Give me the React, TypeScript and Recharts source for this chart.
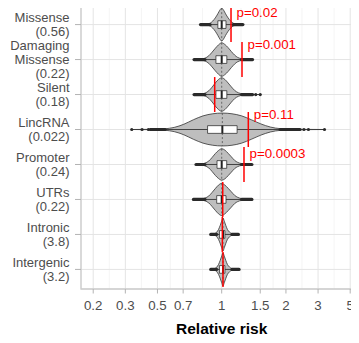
import {
  ComposedChart,
  Area,
  Line,
  Scatter,
  XAxis,
  YAxis,
  CartesianGrid,
  ReferenceLine,
  ReferenceArea,
  ReferenceDot,
  Label,
} from "recharts";

const FONT = '"Liberation Sans", Arial, Helvetica, sans-serif';

// categories, top to bottom, with the rate shown under each name
const categoryNames = [
  "Missense",
  "Damaging\nMissense",
  "Silent",
  "LincRNA",
  "Promoter",
  "UTRs",
  "Intronic",
  "Intergenic",
];
const categoryRates = ["0.56", "0.22", "0.18", "0.022", "0.24", "0.22", "3.8", "3.2"];

// x axis is in plot units; labels are the relative risk shown at each break
const xTickPos = [-2, -1.5, -1, -0.6, 0, 0.6, 1, 1.5, 2];
const xTickLabels = ["0.2", "0.3", "0.5", "0.7", "1", "1.5", "2", "3", "5"];
const xMinorPos = [-1.75, -1.25, -0.8, -0.3, 0.3, 0.8, 1.25, 1.75];
const xDomain: [number, number] = [-2.19, 2.19];
const yDomain: [number, number] = [0.44, 8.56];

// violin outlines: [offset from median, half width]
const missenseViolin = [
  [-0.33, 0], [-0.24, 0.012], [-0.18, 0.04], [-0.14, 0.1], [-0.1, 0.19], [-0.06, 0.31],
  [-0.03, 0.41], [0, 0.47], [0.03, 0.41], [0.06, 0.31], [0.1, 0.19], [0.14, 0.1],
  [0.18, 0.04], [0.24, 0.012], [0.33, 0],
];
const damagingViolin = [
  [-0.43, 0], [-0.34, 0.01], [-0.26, 0.04], [-0.2, 0.11], [-0.15, 0.21], [-0.1, 0.32],
  [-0.05, 0.42], [0, 0.48], [0.05, 0.43], [0.1, 0.34], [0.15, 0.23], [0.2, 0.13],
  [0.25, 0.06], [0.31, 0.025], [0.4, 0.008], [0.48, 0],
];
const silentViolin = [
  [-0.43, 0], [-0.34, 0.01], [-0.26, 0.04], [-0.2, 0.11], [-0.15, 0.21], [-0.1, 0.33],
  [-0.05, 0.43], [0, 0.48], [0.05, 0.43], [0.1, 0.33], [0.15, 0.22], [0.2, 0.12],
  [0.26, 0.05], [0.33, 0.02], [0.45, 0.005], [0.6, 0],
];
const lincViolin = [
  [-1.4, 0], [-1.1, 0.005], [-0.9, 0.02], [-0.75, 0.06], [-0.6, 0.15], [-0.45, 0.28],
  [-0.3, 0.39], [-0.15, 0.45], [0, 0.47], [0.15, 0.45], [0.3, 0.39], [0.45, 0.28],
  [0.6, 0.16], [0.75, 0.07], [0.9, 0.025], [1.2, 0.005], [1.6, 0],
];
const promoterViolin = [
  [-0.4, 0], [-0.33, 0.01], [-0.26, 0.04], [-0.2, 0.1], [-0.15, 0.2], [-0.1, 0.31],
  [-0.05, 0.4], [0, 0.45], [0.05, 0.41], [0.1, 0.32], [0.15, 0.22], [0.2, 0.12],
  [0.25, 0.06], [0.31, 0.025], [0.4, 0.008], [0.47, 0],
];
const utrViolin = [
  [-0.44, 0], [-0.34, 0.01], [-0.26, 0.04], [-0.2, 0.1], [-0.15, 0.2], [-0.1, 0.31],
  [-0.05, 0.41], [0, 0.46], [0.05, 0.41], [0.1, 0.32], [0.15, 0.22], [0.2, 0.12],
  [0.25, 0.06], [0.31, 0.025], [0.4, 0.008], [0.47, 0],
];
const intronicViolin = [
  [-0.19, 0], [-0.14, 0.015], [-0.1, 0.06], [-0.07, 0.14], [-0.045, 0.25], [-0.02, 0.38],
  [0, 0.47], [0.02, 0.38], [0.045, 0.25], [0.07, 0.14], [0.1, 0.07], [0.14, 0.025], [0.24, 0],
];
const intergenicViolin = [
  [-0.19, 0], [-0.14, 0.015], [-0.1, 0.06], [-0.07, 0.14], [-0.045, 0.25], [-0.02, 0.38],
  [0, 0.47], [0.02, 0.38], [0.045, 0.25], [0.07, 0.14], [0.1, 0.07], [0.14, 0.025], [0.25, 0],
];
const violins = [
  missenseViolin, damagingViolin, silentViolin, lincViolin,
  promoterViolin, utrViolin, intronicViolin, intergenicViolin,
];

// box plot summaries (plot units)
const medians = [0, 0, 0, 0.01, 0, 0, 0.02, 0.02];
const q1 = [-0.06, -0.09, -0.09, -0.22, -0.073, -0.078, -0.035, -0.035];
const q3 = [0.067, 0.08, 0.08, 0.24, 0.078, 0.067, 0.05, 0.05];
const whiskLo = [-0.18, -0.26, -0.26, -0.88, -0.26, -0.26, -0.08, -0.08];
const whiskHi = [0.18, 0.31, 0.31, 0.91, 0.31, 0.31, 0.16, 0.16];
const outLo = [-0.33, -0.43, -0.43, -1.11, -0.4, -0.44, -0.17, -0.17];
const outHi = [0.33, 0.48, 0.48, 1.22, 0.47, 0.47, 0.26, 0.27];
const sparseOutliers = [[], [], [0.53, 0.6], [-1.4, -1.24, -1.14, 1.28, 1.35, 1.6], [], [], [], []];

// observed relative risk (red) and p values
const observed = [0.145, 0.316, -0.109, 0.414, 0.347, 0.016, 0.01, 0.02];
const pLabels = ["p=0.02", "p=0.001", "", "p=0.11", "p=0.0003", "", "", ""];
const pLabelY = [-0.35, -0.43, 0, -0.44, -0.33, 0, 0, 0];

const violinData = violins.map((v, i) =>
  v.map(([d, w]) => ({ u: medians[i] + d, band: [i + 1 - w, i + 1 + w] }))
);

function YTick({ x, y, payload }: any) {
  const idx = Math.round(payload.value) - 1;
  const lines = [...categoryNames[idx].split("\n"), `(${categoryRates[idx]})`];
  const lh = 14;
  const first = 4.5 - ((lines.length - 1) * lh) / 2;
  return (
    <text x={x} y={y} textAnchor="end" fill="#4d4d4d" fontSize={13} fontFamily={FONT}>
      {lines.map((l, k) => (
        <tspan key={k} x={x} y={y + first + k * lh}>
          {l}
        </tspan>
      ))}
    </text>
  );
}

function AxisTitle({ viewBox }: any) {
  const { x, y, width, height } = viewBox;
  return (
    <text
      x={x + width / 2}
      y={y + height - 8.7}
      textAnchor="middle"
      fontSize={15.5}
      fontWeight="bold"
      fill="#000"
      fontFamily={FONT}
    >
      Relative risk
    </text>
  );
}

export default function App() {
  return (
    <div style={{ margin: -8, width: 359, height: 343, overflow: "hidden", background: "#fff" }}>
      <ComposedChart width={364} height={343} margin={{ top: 5, right: 1.6, bottom: 0, left: 0 }}>
        <CartesianGrid horizontal={false} verticalValues={xMinorPos} stroke="#efefef" strokeWidth={0.7} />
        <CartesianGrid stroke="#e4e4e4" strokeWidth={1} />
        <XAxis
          type="number"
          dataKey="u"
          domain={xDomain}
          allowDataOverflow
          ticks={xTickPos}
          interval={0}
          tickFormatter={(v: number) => xTickLabels[xTickPos.indexOf(v)]}
          tick={{ fill: "#4d4d4d", fontSize: 13.3, fontFamily: FONT }}
          tickLine={{ stroke: "#b3b3b3" }}
          tickSize={4.5}
          tickMargin={7}
          axisLine={false}
          height={54}
        >
          <Label content={AxisTitle} />
        </XAxis>
        <YAxis
          type="number"
          dataKey="y"
          domain={yDomain}
          allowDataOverflow
          reversed
          ticks={[1, 2, 3, 4, 5, 6, 7, 8]}
          interval={0}
          tick={<YTick />}
          tickLine={{ stroke: "#b3b3b3" }}
          tickSize={6}
          tickMargin={5.5}
          axisLine={false}
          width={81}
        />

        {violinData.map((d, i) => (
          <Area
            key={`v${i}`}
            data={d}
            dataKey="band"
            type="monotone"
            fill="#bebebe"
            fillOpacity={1}
            stroke="#333"
            strokeWidth={0.8}
            dot={false}
            activeDot={false}
            isAnimationActive={false}
            zIndex={100}
          />
        ))}

        {violins.map((v, i) => {
          const peak = Math.max(...v.map((p) => p[1]));
          return (
            <ReferenceLine
              key={`q${i}`}
              segment={[
                { x: medians[i], y: i + 1 - peak },
                { x: medians[i], y: i + 1 + peak },
              ]}
              stroke="#444"
              strokeWidth={0.7}
              strokeDasharray="2 2"
              zIndex={110}
            />
          );
        })}

        {categoryNames.map((_, i) => (
          <Line
            key={`w${i}`}
            data={[
              { u: whiskLo[i], y: i + 1 },
              { u: whiskHi[i], y: i + 1 },
            ]}
            dataKey="y"
            stroke="#333"
            strokeWidth={0.9}
            dot={false}
            activeDot={false}
            isAnimationActive={false}
            zIndex={120}
          />
        ))}
        {categoryNames.map((_, i) => (
          <Line
            key={`ol${i}`}
            data={[
              { u: outLo[i], y: i + 1 },
              { u: whiskLo[i], y: i + 1 },
            ]}
            dataKey="y"
            stroke="#2a2a2a"
            strokeWidth={3.2}
            strokeLinecap="round"
            dot={false}
            activeDot={false}
            isAnimationActive={false}
            zIndex={130}
          />
        ))}
        {categoryNames.map((_, i) => (
          <Line
            key={`oh${i}`}
            data={[
              { u: whiskHi[i], y: i + 1 },
              { u: outHi[i], y: i + 1 },
            ]}
            dataKey="y"
            stroke="#2a2a2a"
            strokeWidth={3.2}
            strokeLinecap="round"
            dot={false}
            activeDot={false}
            isAnimationActive={false}
            zIndex={130}
          />
        ))}
        <Scatter
          data={sparseOutliers.flatMap((arr, i) => arr.map((u) => ({ u, y: i + 1 })))}
          isAnimationActive={false}
          shape={(p: any) => <circle cx={p.cx} cy={p.cy} r={1.6} fill="#2a2a2a" />}
          zIndex={140}
        />

        {categoryNames.map((_, i) => (
          <ReferenceArea
            key={`b${i}`}
            x1={q1[i]}
            x2={q3[i]}
            y1={i + 1 - 0.11}
            y2={i + 1 + 0.11}
            fill="#ffffff"
            fillOpacity={1}
            stroke="#333"
            strokeWidth={0.8}
            zIndex={150}
          />
        ))}
        {categoryNames.map((_, i) => (
          <ReferenceLine
            key={`m${i}`}
            segment={[
              { x: medians[i], y: i + 1 - 0.11 },
              { x: medians[i], y: i + 1 + 0.11 },
            ]}
            stroke="#222"
            strokeWidth={2}
            zIndex={160}
          />
        ))}

        {observed.map((r, i) => (
          <ReferenceLine
            key={`r${i}`}
            segment={[
              { x: r, y: i + 1 - 0.5 },
              { x: r, y: i + 1 + 0.5 },
            ]}
            stroke="#ff0000"
            strokeWidth={1.5}
            zIndex={170}
          />
        ))}

        <ReferenceArea
          x1={xDomain[0]}
          x2={xDomain[1]}
          y1={yDomain[0]}
          y2={yDomain[1]}
          fill="none"
          stroke="#cccccc"
          strokeWidth={1.3}
          zIndex={180}
        />

        {pLabels.map((t, i) =>
          t ? (
            <ReferenceDot
              key={`p${i}`}
              x={observed[i]}
              y={i + 1 + pLabelY[i]}
              r={0}
              fill="none"
              stroke="none"
              label={{
                value: t,
                position: "right",
                offset: 5.5,
                fill: "#ff0000",
                fontSize: 13.3,
                fontFamily: FONT,
              }}
              zIndex={190}
            />
          ) : null
        )}
      </ComposedChart>
    </div>
  );
}
